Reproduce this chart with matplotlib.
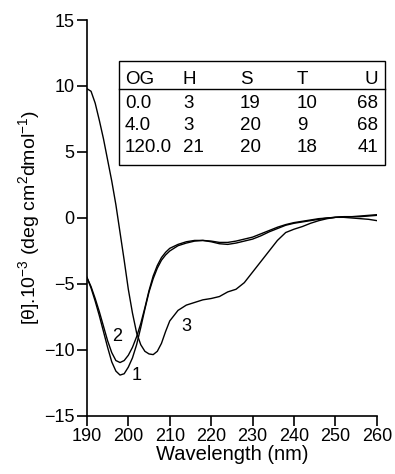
import numpy as np
from matplotlib import pyplot as plt

plt.rcParams['font.family'] = ['Liberation Sans', 'DejaVu Sans']
plt.rcParams['mathtext.fontset'] = 'custom'
plt.rcParams['mathtext.rm'] = 'Liberation Sans'
plt.rcParams['mathtext.it'] = 'Liberation Sans'

# wavelength grid (nm)
wl = [190, 191, 192, 193, 194, 195, 196, 197, 198, 199, 200, 201, 202, 203, 204,
      205, 206, 207, 208, 209, 210, 212, 214, 216, 218, 220, 222, 224, 226, 228,
      230, 232, 234, 236, 238, 240, 242, 244, 246, 248, 250, 252, 254, 256, 258, 260]

# curve 1 (OG 0.0)
c1 = [-4.5, -5.3, -6.3, -7.4, -8.6, -9.8, -10.9, -11.6, -11.9, -11.8, -11.3, -10.6,
      -9.6, -8.3, -6.9, -5.6, -4.6, -3.8, -3.2, -2.8, -2.5, -2.1, -1.9, -1.75, -1.7,
      -1.75, -1.85, -1.85, -1.75, -1.6, -1.45, -1.2, -0.95, -0.7, -0.5, -0.35, -0.25,
      -0.15, -0.05, 0.0, 0.05, 0.05, 0.0, -0.05, -0.1, -0.2]

# curve 2 (OG 4.0)
c2 = [-4.5, -5.2, -6.1, -7.1, -8.2, -9.3, -10.2, -10.8, -10.95, -10.8, -10.4, -9.8,
      -9.0, -8.0, -6.8, -5.5, -4.4, -3.6, -3.0, -2.6, -2.3, -2.0, -1.8, -1.7, -1.7,
      -1.8, -1.95, -2.0, -1.9, -1.75, -1.6, -1.35, -1.05, -0.8, -0.55, -0.4, -0.3,
      -0.2, -0.1, 0.0, 0.05, 0.1, 0.1, 0.15, 0.2, 0.25]

# curve 3 (OG 120.0)
c3 = [9.8, 9.6, 8.7, 7.4, 6.0, 4.4, 2.8, 1.0, -1.1, -3.2, -5.4, -7.2, -8.7, -9.6,
      -10.1, -10.3, -10.35, -10.1, -9.5, -8.6, -7.8, -7.0, -6.6, -6.4, -6.2, -6.1,
      -5.95, -5.6, -5.4, -4.9, -4.1, -3.3, -2.5, -1.7, -1.1, -0.85, -0.65, -0.4,
      -0.2, -0.05, 0.05, 0.1, 0.1, 0.1, 0.15, 0.2]

curve_labels = ["1", "2", "3"]
label_pos = [(202.0, -11.9), (197.2, -9.0), (213.9, -8.2)]

table_header = ["OG", "H", "S", "T", "U"]
table_rows = [["0.0", "3", "19", "10", "68"],
              ["4.0", "3", "20", "9", "68"],
              ["120.0", "21", "20", "18", "41"]]

fig = plt.figure(figsize=(3.95, 4.74), dpi=100)
ax = fig.add_axes([0.220, 0.1224, 0.734, 0.8354])

for c in (c1, c2, c3):
    ax.plot(wl, c, color='black', lw=1.0)

for lab, (x, y) in zip(curve_labels, label_pos):
    ax.text(x, y, lab, fontsize=13, ha='center', va='center')

ax.set_xlim(190, 260)
ax.set_ylim(-15, 15)
ax.set_xticks(np.arange(190, 261, 10))
ax.set_yticks(np.arange(-15, 16, 5))
for s in ('top', 'right'):
    ax.spines[s].set_visible(False)
for s in ('left', 'bottom'):
    ax.spines[s].set_linewidth(1.2)
ax.tick_params(direction='out', length=7, width=1.2, labelsize=13, pad=2)
ax.set_xlabel("Wavelength (nm)", fontsize=14.5, labelpad=0)
ax.set_ylabel(r"[θ].10$^{-3}$ (deg cm$^2$dmol$^{-1}$)", fontsize=14, labelpad=1)

# table box in figure pixels
W, H = 395.0, 474.0
box_l, box_r, box_t, box_b = 119, 385, 60.5, 165
fig.add_artist(plt.Rectangle((box_l / W, 1 - box_b / H), (box_r - box_l) / W,
                             (box_b - box_t) / H, transform=fig.transFigure,
                             fill=False, lw=1.0, color='black'))
fig.add_artist(plt.Line2D([box_l / W, box_r / W], [1 - 89 / H, 1 - 89 / H],
                          transform=fig.transFigure, lw=1.0, color='black'))
col_x = [125, 183, 240, 297, 378]
row_y = [79, 103, 126, 148]
for r, row in enumerate([table_header] + table_rows):
    for c, txt in enumerate(row):
        ha = 'right' if c == 4 else 'left'
        fig.text(col_x[c] / W, 1 - row_y[r] / H, txt, fontsize=13.5, ha=ha, va='center')

fig.savefig("out.png", dpi=100)
